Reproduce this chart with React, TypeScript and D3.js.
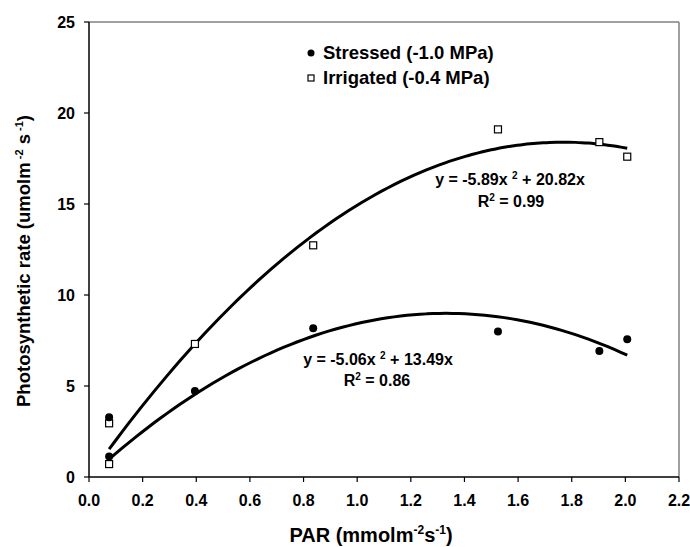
import React from "react";
import * as d3 from "d3";

// PAR values (mmol m-2 s-1) and measured photosynthetic rates
const parValues = [0.075, 0.075, 0.395, 0.836, 1.525, 1.903, 2.007];
const stressedRate = [3.28, 1.12, 4.72, 8.17, 8.0, 6.92, 7.57];
const irrigatedRate = [2.95, 0.71, 7.31, 12.73, 19.1, 18.4, 17.6];

// fitted polynomial trendlines y = a x^2 + b x
const stressedFit = [-5.06, 13.49];
const irrigatedFit = [-5.89, 20.82];
const fitRange = [0.075, 2.007];

const xTicks = [0, 0.2, 0.4, 0.6, 0.8, 1.0, 1.2, 1.4, 1.6, 1.8, 2.0, 2.2];
const yTicks = [0, 5, 10, 15, 20, 25];

const W = 690;
const H = 547;
const left = 89, right = 679, top = 22, bottom = 477;
const font = "'Liberation Sans', Arial, sans-serif";

export default function App() {
  const x = d3.scaleLinear().domain([0, 2.2]).range([left, right]);
  const y = d3.scaleLinear().domain([0, 25]).range([bottom, top]);

  const curve = (coef: number[]) => {
    const xs = d3.range(fitRange[0], fitRange[1] + 0.0001, (fitRange[1] - fitRange[0]) / 80);
    const line = d3.line<number>()
      .x(d => x(d))
      .y(d => y(coef[0] * d * d + coef[1] * d))
      .curve(d3.curveMonotoneX);
    return line(xs) || "";
  };

  return (
    <svg width={W} height={H} style={{ position: "absolute", left: 0, top: 0 }}
      fontFamily={font} fontWeight="bold">
      <rect x={0} y={0} width={W} height={H} fill="#fff" />
      {/* frame */}
      <line x1={left} x2={right} y1={top} y2={top} stroke="#808080" strokeWidth={1.5} />
      <line x1={right} x2={right} y1={top} y2={bottom} stroke="#808080" strokeWidth={1.5} />
      <line x1={left} x2={left} y1={top} y2={bottom} stroke="#000" strokeWidth={1.5} />
      <line x1={left} x2={right} y1={bottom} y2={bottom} stroke="#000" strokeWidth={1.5} />

      {/* y axis */}
      {yTicks.map(t => (
        <g key={"y" + t}>
          <line x1={left - 5} x2={left} y1={y(t)} y2={y(t)} stroke="#000" strokeWidth={1.2} />
          <text x={left - 14} y={y(t)} dy="0.35em" textAnchor="end" fontSize={16}>{t}</text>
        </g>
      ))}
      {/* x axis */}
      {xTicks.map(t => (
        <g key={"x" + t}>
          <line x1={x(t)} x2={x(t)} y1={bottom} y2={bottom + 5} stroke="#000" strokeWidth={1.2} />
          <text x={x(t)} y={506} textAnchor="middle" fontSize={16}>{d3.format(".1f")(t)}</text>
        </g>
      ))}

      {/* axis titles */}
      <text x={371} y={542} textAnchor="middle" fontSize={20}>
        PAR (mmolm<tspan dy={-8} fontSize={12}>-2</tspan><tspan dy={8}>s</tspan>
        <tspan dy={-8} fontSize={12}>-1</tspan><tspan dy={8}>)</tspan>
      </text>
      <text transform={`translate(30,261) rotate(-90)`} textAnchor="middle" fontSize={18.5}>
        Photosynthetic rate (umolm<tspan dy={-7} fontSize={11}> -2</tspan><tspan dy={7}> s</tspan>
        <tspan dy={-7} fontSize={11}> -1</tspan><tspan dy={7}>)</tspan>
      </text>

      {/* trendlines */}
      <path d={curve(irrigatedFit)} fill="none" stroke="#000" strokeWidth={3} />
      <path d={curve(stressedFit)} fill="none" stroke="#000" strokeWidth={3} />

      {/* points */}
      {parValues.map((p, i) => (
        <rect key={"i" + i} x={x(p) - 3.5} y={y(irrigatedRate[i]) - 3.5} width={7} height={7}
          fill="#fff" stroke="#000" strokeWidth={1.2} />
      ))}
      {parValues.map((p, i) => (
        <circle key={"s" + i} cx={x(p)} cy={y(stressedRate[i])} r={4} fill="#000" />
      ))}

      {/* legend */}
      <circle cx={311} cy={53} r={3.5} fill="#000" />
      <text x={323} y={59} fontSize={18.5}>Stressed (-1.0 MPa)</text>
      <rect x={308} y={75} width={6} height={6} fill="#fff" stroke="#000" strokeWidth={1.2} />
      <text x={323} y={84} fontSize={18.5}>Irrigated (-0.4 MPa)</text>

      {/* equations */}
      <text x={510} y={185} textAnchor="middle" fontSize={16}>
        y = -5.89x <tspan dy={-6} fontSize={10}>2</tspan><tspan dy={6}> + 20.82x</tspan>
      </text>
      <text x={511} y={207} textAnchor="middle" fontSize={16}>
        R<tspan dy={-6} fontSize={10}>2</tspan><tspan dy={6}> = 0.99</tspan>
      </text>
      <text x={378} y={365} textAnchor="middle" fontSize={16}>
        y = -5.06x <tspan dy={-6} fontSize={10}>2</tspan><tspan dy={6}> + 13.49x</tspan>
      </text>
      <text x={377} y={386} textAnchor="middle" fontSize={16}>
        R<tspan dy={-6} fontSize={10}>2</tspan><tspan dy={6}> = 0.86</tspan>
      </text>
    </svg>
  );
}
